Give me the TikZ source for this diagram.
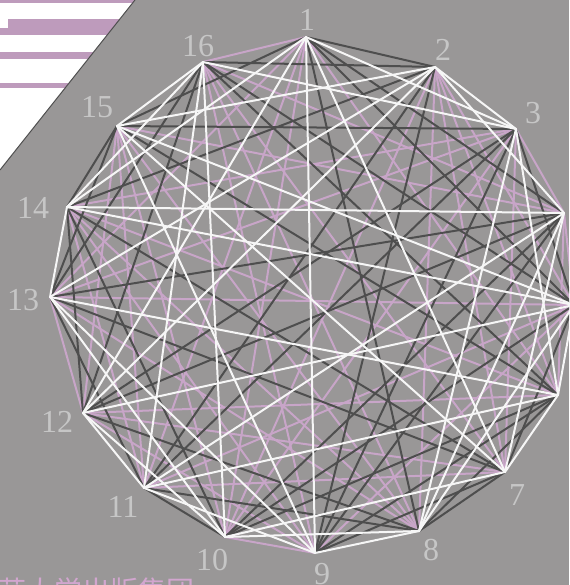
\documentclass[tikz,border=0pt]{standalone}
\usepackage{fontspec}
\setmainfont{Liberation Serif}
\newfontfamily\cjk{Noto Sans CJK SC}
\definecolor{bggray}{HTML}{999797}
\definecolor{edgepink}{HTML}{C8A5C8}
\definecolor{edgedark}{HTML}{4E4E4E}
\definecolor{edgewhite}{HTML}{F6F6F6}
\definecolor{labgray}{HTML}{C6C6C6}
\definecolor{stripepink}{HTML}{BE9BBC}
\definecolor{presspink}{HTML}{D2A6CF}

\begin{document}
\begin{tikzpicture}[x=1pt,y=-1pt,
  lab/.style={text=labgray,inner sep=0pt,font=\fontsize{32}{32}\selectfont},
  edge/.style={line width=2pt,line cap=round}]
  \useasboundingbox (0,0) rectangle (569,585);
  \clip (0,0) rectangle (569,585);
  \fill[bggray] (0,0) rectangle (569,585);
  % corner of the cover
  \begin{scope}
    \clip (0,0) -- (135,0) -- (0,170) -- cycle;
    \fill[white] (0,0) rectangle (140,175);
    \fill[stripepink] (0,0) rectangle (140,3);
    \fill[stripepink] (8,19) rectangle (140,28);
    \fill[stripepink] (0,28) rectangle (140,35);
    \fill[stripepink] (0,52) rectangle (140,59);
    \fill[stripepink] (0,83) rectangle (140,88);
  \end{scope}
  \draw[edgedark,line width=1pt] (135,0) -- (0,170);
  % vertices
  \foreach \n/\x/\y in {1/306/37,2/435/67,3/516/129,4/564/213,5/574/305,
      6/558/395,7/505/472,8/419/531,9/315/553,10/225/537,11/144/488,
      12/83/413,13/50/297,14/67/207,15/117/126,16/203/62}
    \coordinate (v\n) at (\x,\y);
  % pink edges
  \foreach \a/\b in {1/6,1/10,1/11,1/13,1/16,2/5,2/6,2/7,2/8,2/10,
      3/4,3/7,3/10,3/13,3/14,4/5,4/6,4/15,4/16,5/9,5/11,5/13,6/12,6/14,
      7/11,7/12,7/16,8/13,8/14,8/15,8/16,9/10,9/12,9/14,9/16,10/15,
      11/14,11/15,12/13,12/15}
    \draw[edge,edgepink] (v\a) -- (v\b);
  % dark edges
  \foreach \a/\b in {1/2,1/4,1/5,1/8,1/15,2/9,2/11,2/14,2/16,3/5,3/9,
      3/11,3/12,3/15,4/9,4/10,4/12,4/13,5/7,5/10,5/16,6/8,6/9,6/10,6/15,
      6/16,7/8,7/9,7/13,7/14,8/11,8/12,10/11,10/14,11/13,12/14,12/16,
      13/15,13/16,14/15}
    \draw[edge,edgedark] (v\a) -- (v\b);
  % white edges
  \foreach \a/\b in {1/3,1/7,1/9,1/12,1/14,2/3,2/4,2/12,2/13,2/15,3/6,
      3/8,3/16,4/7,4/8,4/11,4/14,5/6,5/8,5/12,5/14,5/15,6/7,6/11,6/13,
      7/10,7/15,8/9,8/10,9/11,9/13,9/15,10/12,10/13,10/16,11/12,11/16,
      13/14,14/16,15/16}
    \draw[edge,edgewhite] (v\a) -- (v\b);
  % labels
  \foreach \n/\x/\y in {1/307/20,2/443/50,3/533/113,7/517/495,8/431/550,
      9/322/574,10/212/560,11/123/507,12/57/422,13/23/300,14/33/208,
      15/97/107,16/198/46}
    \node[lab] (l\n) at (\x,\y) {\n};
  % publisher line, cut by the lower edge
  \node[anchor=base west,inner sep=0pt,text=presspink,
        font=\cjk\fontsize{28}{28}\selectfont] (press) at (-86,601)
    {北京师范大学出版集团};
\end{tikzpicture}
\end{document}
